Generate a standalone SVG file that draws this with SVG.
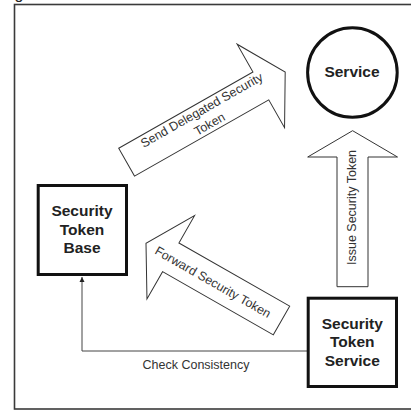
<svg xmlns="http://www.w3.org/2000/svg" width="411" height="411" viewBox="0 0 411 411">
  <style>
    .frame { fill: #fff; stroke: #3a3a3a; stroke-width: 1.6; }
    .node { fill: #fff; stroke: #111; stroke-width: 3; }
    .flow { fill: #fff; stroke: #333; stroke-width: 1; }
    .link { fill: none; stroke: #444; stroke-width: 1; }
    .title { font-family: "Liberation Sans", Arial, sans-serif; font-weight: bold; font-size: 15.5px; fill: #222; text-anchor: middle; }
    .label { font-family: "Liberation Sans", Arial, sans-serif; font-size: 12.5px; fill: #333; text-anchor: middle; }
  </style>
  <defs>
    <marker id="tip" viewBox="0 0 10 10" refX="10" refY="5" markerWidth="5" markerHeight="6" orient="auto" markerUnits="userSpaceOnUse">
      <path d="M0,0 L10,5 L0,10 Z" fill="#222"/>
    </marker>
  </defs>

  <rect width="411" height="411" fill="#fff"/>
  <text x="14.5" y="-1.5" font-family="Liberation Sans, Arial, sans-serif" font-size="16" fill="#222">g</text>
  <rect class="frame" x="14.5" y="4.5" width="410" height="404.5"/>

  <!-- block arrows carrying the token flows -->
  <g id="flows">
    <g id="send-delegated">
      <g transform="translate(126.6,162.2) rotate(-29.6)">
        <path class="flow" d="M0,-16 H154.4 V-48 L182.4,0 L154.4,48 V16 H0 Z"/>
        <text class="label" x="91" y="-4">Send Delegated Security</text>
        <text class="label" x="91" y="12">Token</text>
      </g>
    </g>
    <g id="issue-token">
      <path class="flow" d="M337,286.7 V157 H307.7 L352.6,130.7 L397.5,157 H368 V286.7 Z"/>
      <text class="label" transform="translate(356,207.5) rotate(-90)">Issue Security Token</text>
    </g>
    <g id="forward-token">
      <path class="flow" transform="translate(281.5,320.5) rotate(-150.3)" d="M0,-16.5 H127.5 V-48 L156,0 L127.5,48 V16.5 H0 Z"/>
      <text class="label" transform="translate(213,282) rotate(29.7)" y="4.4">Forward Security Token</text>
    </g>
  </g>

  <!-- connectors -->
  <g id="connectors">
    <path class="link" d="M307,351 H82 V277" marker-end="url(#tip)"/>
    <text class="label" x="196" y="369">Check Consistency</text>
  </g>

  <g id="service">
    <circle class="node" cx="352.4" cy="72.5" r="44.8" stroke-width="2.6"/>
    <text class="title" x="352" y="77">Service</text>
  </g>

  <g id="security-token-base">
    <rect class="node" x="38.2" y="185.5" width="88.3" height="89"/>
    <text class="title" x="82" y="216">Security</text>
    <text class="title" x="82" y="234.5">Token</text>
    <text class="title" x="82" y="253.3">Base</text>
  </g>

  <g id="security-token-service">
    <rect class="node" x="308.2" y="298.2" width="88.3" height="88.3"/>
    <text class="title" x="352.3" y="328.5">Security</text>
    <text class="title" x="352.3" y="347">Token</text>
    <text class="title" x="352.3" y="366">Service</text>
  </g>
</svg>
